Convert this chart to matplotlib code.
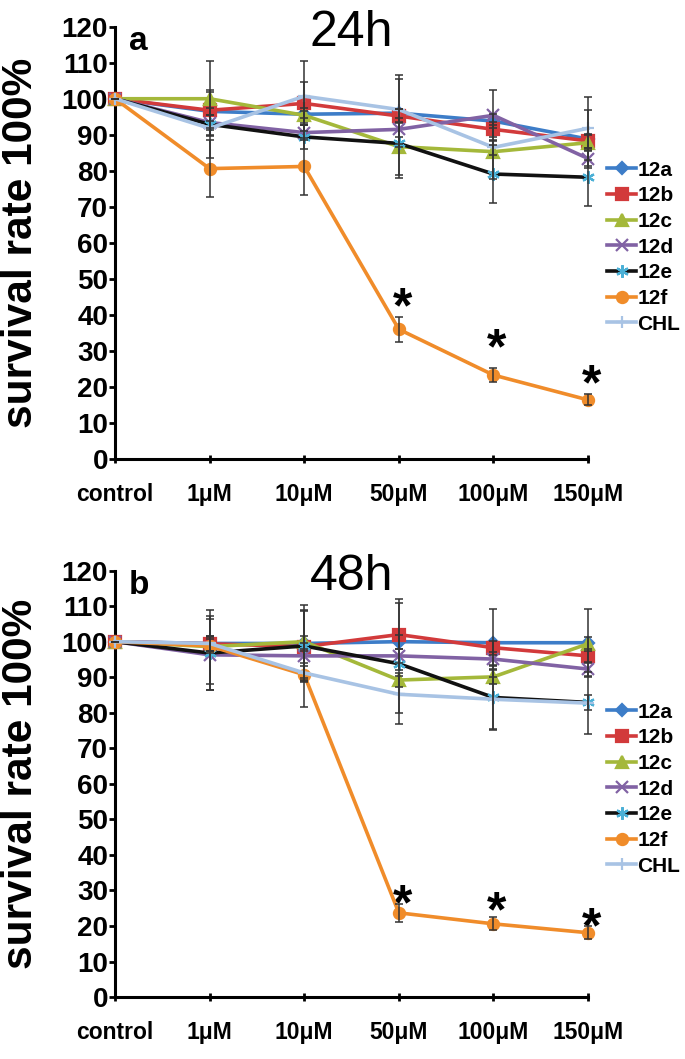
import numpy as np
import matplotlib
matplotlib.use('Agg')
from matplotlib import pyplot as plt

plt.rcParams['font.family'] = ['Liberation Sans', 'DejaVu Sans']

doses = ['control', '1μM', '10μM', '50μM', '100μM', '150μM']
names = ['12a', '12b', '12c', '12d', '12e', '12f', 'CHL']

# 24h survival (%) and error
a24 = [100, 96.5, 95.7, 96.0, 93.8, 88.8]
b24 = [100, 96.8, 98.7, 95.2, 91.5, 88.3]
c24 = [100, 100.0, 95.4, 86.7, 85.3, 87.8]
d24 = [100, 93.4, 90.6, 91.5, 95.4, 83.4]
e24 = [100, 92.9, 89.4, 87.6, 79.1, 78.2]
f24 = [100, 80.6, 81.2, 36.0, 23.3, 16.4]
chl24 = [100, 91.8, 100.7, 97.0, 86.5, 91.8]
a24_err = [0, 1, 1, 9.5, 2, 8]
b24_err = [0, 5, 6, 2, 2, 2]
c24_err = [0, 10.4, 2, 8, 7.5, 2]
d24_err = [0, 2, 2, 2, 7, 2]
e24_err = [0, 9.4, 3.4, 9.6, 8, 8]
f24_err = [0, 8, 8, 3.5, 2, 1.5]
chl24_err = [0, 2, 9.7, 9.5, 2, 8.7]
stars24 = [44.5, 33.0, 23.0]   # asterisk heights at 50, 100, 150 uM

# 48h survival (%) and error
a48 = [100, 99.5, 99.5, 100.0, 99.7, 99.7]
b48 = [100, 99.4, 98.6, 102.0, 98.3, 96.0]
c48 = [100, 98.6, 100.0, 89.2, 90.1, 99.4]
d48 = [100, 96.3, 96.0, 96.0, 95.1, 92.3]
e48 = [100, 96.8, 98.8, 93.8, 84.3, 82.9]
f48 = [100, 98.8, 90.7, 23.7, 20.6, 18.1]
chl48 = [100, 99.5, 91.2, 85.2, 83.8, 82.7]
a48_err = [0, 2, 2, 2, 9.6, 9.6]
b48_err = [0, 2, 10, 10, 2, 2]
c48_err = [0, 10.4, 10.2, 2, 2, 2]
d48_err = [0, 10, 2, 2, 2, 2]
e48_err = [0, 10.5, 10, 17, 9, 2]
f48_err = [0, 2, 9, 2.5, 1.8, 1.8]
chl48_err = [0, 2, 2, 5.2, 8.6, 8.7]
stars48 = [28.5, 26.5, 22.0]

colors = ['#3D7DC8', '#D23A3B', '#A4B83A', '#8162A4', '#111111', '#F08C2A', '#A8C3E4']
mcolors = ['#3D7DC8', '#D23A3B', '#A4B83A', '#8162A4', '#4BB0D6', '#F08C2A', '#A8C3E4']
markers = ['D', 's', '^', 'x', (6, 2, 0), 'o', '+']
msizes = [6, 8, 8, 8, 9, 8, 9]

panels = [
    ('24h', 'a', [a24, b24, c24, d24, e24, f24, chl24],
     [a24_err, b24_err, c24_err, d24_err, e24_err, f24_err, chl24_err], stars24,
     [0.1679, 0.5666, 0.6905, 0.4082]),
    ('48h', 'b', [a48, b48, c48, d48, e48, f48, chl48],
     [a48_err, b48_err, c48_err, d48_err, e48_err, f48_err, chl48_err], stars48,
     [0.1679, 0.0585, 0.6905, 0.4027]),
]

fig = plt.figure(figsize=(6.85, 10.59), dpi=100)
x = np.arange(len(doses))

for title, letter, series, errs, stars, rect in panels:
    ax = fig.add_axes(rect)
    for i in range(len(names)):
        ax.errorbar(x, series[i], yerr=errs[i], fmt='none', ecolor='#333333',
                    elinewidth=1.1, capsize=3, capthick=1.1, zorder=4, clip_on=False)
        ax.plot(x, series[i], color=colors[i], lw=2.6, marker=markers[i],
                ms=msizes[i], mfc=mcolors[i], mec=mcolors[i], mew=1.6,
                label=names[i], zorder=3 + i * 0.01, clip_on=False)
    # significance asterisks over 12f
    for k, h in enumerate(stars):
        ax.annotate('*', xy=(x[3 + k], h), xytext=(2.5, -17), textcoords='offset points',
                    ha='center', va='baseline', fontsize=36, fontweight='bold')

    ax.set_xlim(0, 5)
    ax.set_ylim(0, 120)
    ax.set_yticks(np.arange(0, 121, 10))
    ax.set_xticks(x)
    ax.set_xticklabels(doses)
    for s in ['top', 'right']:
        ax.spines[s].set_visible(False)
    for s in ['left', 'bottom']:
        ax.spines[s].set_linewidth(2.2)
    ax.tick_params(axis='y', direction='out', length=4, width=2, pad=1, labelsize=20)
    ax.tick_params(axis='x', direction='inout', length=6, width=2, pad=14, labelsize=16.5)
    for lab in ax.get_xticklabels() + ax.get_yticklabels():
        lab.set_fontweight('bold')
    ax.set_ylabel('survival rate 100%', fontsize=30.5, fontweight='bold', labelpad=15)
    ax.text(0.5, 0.985, title, transform=ax.transAxes, ha='center', va='center', fontsize=36)
    ax.text(0.03, 0.965, letter, transform=ax.transAxes, ha='left', va='center',
            fontsize=24, fontweight='bold')
    leg = ax.legend(loc='upper left', bbox_to_anchor=(1.04, 0.69), frameon=False,
                    borderpad=0, borderaxespad=0, handlelength=1.4, handletextpad=0.05,
                    labelspacing=0.32, prop={'size': 15, 'weight': 'bold'})

fig.savefig('out.png', dpi=100)
